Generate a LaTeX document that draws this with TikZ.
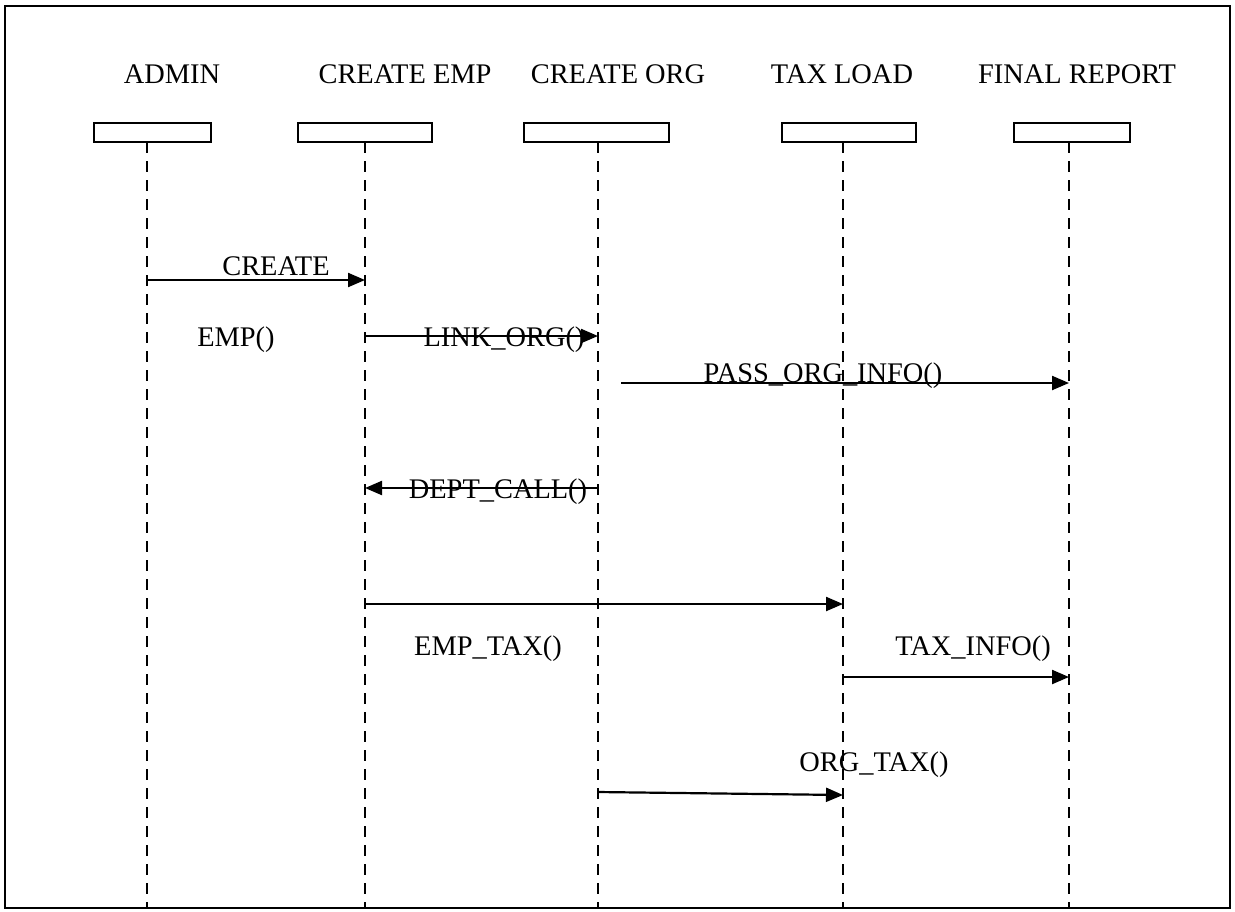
\documentclass[tikz,border=0pt]{standalone}
\usepackage{fontspec}
\setmainfont{Liberation Serif}
\usetikzlibrary{arrows.meta}
\begin{document}
\begin{tikzpicture}[x=0.5pt,y=-0.5pt,
  lbl/.style={font=\fontsize{14.2}{17}\selectfont, inner sep=0pt, anchor=base},
  headbox/.style={draw, line width=1pt, minimum height=9.5pt, inner sep=0pt},
  lifeline/.style={line width=1.2pt, dash pattern=on 5.5pt off 4pt},
  msg/.style={line width=1.1pt, -{Triangle[length=8.5pt,width=7pt]}}]

\useasboundingbox (0,0) rectangle (1235,911);

% outer frame
\draw[line width=1.1pt] (5,6) rectangle (1230,908);

% participant names
\node[lbl] (tAdmin) at (172,83) {ADMIN};
\node[lbl] (tEmp)   at (405,83) {CREATE EMP};
\node[lbl] (tOrg)   at (618,83) {CREATE ORG};
\node[lbl] (tTax)   at (842,83) {TAX LOAD};
\node[lbl] (tRep)   at (1077,83) {FINAL REPORT};

% participant boxes
\node[headbox, minimum width=58.5pt] (bAdmin) at (152,132) {};
\node[headbox, minimum width=67pt]   (bEmp)   at (364.5,132) {};
\node[headbox, minimum width=72.5pt] (bOrg)   at (596,132) {};
\node[headbox, minimum width=67pt]   (bTax)   at (848.5,132) {};
\node[headbox, minimum width=58pt]   (bRep)   at (1071.5,132) {};

% lifeline ends
\coordinate (aTop) at (147,142);  \coordinate (aBot) at (147,908);
\coordinate (eTop) at (365,142);  \coordinate (eBot) at (365,908);
\coordinate (oTop) at (598,142);  \coordinate (oBot) at (598,908);
\coordinate (xTop) at (843,142);  \coordinate (xBot) at (843,908);
\coordinate (rTop) at (1069,142); \coordinate (rBot) at (1069,908);

\draw[lifeline] (aTop) -- (aBot);
\draw[lifeline] (eTop) -- (eBot);
\draw[lifeline] (oTop) -- (oBot);
\draw[lifeline] (xTop) -- (xBot);
\draw[lifeline] (rTop) -- (rBot);

% message end points
\coordinate (m1s) at (147,280);  \coordinate (m1e) at (365,280);
\coordinate (m2s) at (365,336);  \coordinate (m2e) at (598,336);
\coordinate (m3s) at (621,383);  \coordinate (m3e) at (1069,383);
\coordinate (m4s) at (598,488);  \coordinate (m4e) at (365,488);
\coordinate (m5s) at (365,604);  \coordinate (m5e) at (843,604);
\coordinate (m6s) at (843,677);  \coordinate (m6e) at (1069,677);
\coordinate (m7s) at (598,792);  \coordinate (m7e) at (843,795);

% messages
\draw[msg] (m1s) -- (m1e);
\draw[msg] (m2s) -- (m2e);
\draw[msg] (m3s) -- (m3e);
\draw[msg] (m4s) -- (m4e);
\draw[msg] (m5s) -- (m5e);
\draw[msg] (m6s) -- (m6e);
\draw[msg] (m7s) -- (m7e);

% message labels
\node[lbl] (l1a) at (276,275) {CREATE};
\node[lbl] (l1b) at (236,346) {EMP()};
\node[lbl] (l2)  at (504,346) {LINK\_ORG()};
\node[lbl] (l3)  at (823,382) {PASS\_ORG\_INFO()};
\node[lbl] (l4)  at (498,498) {DEPT\_CALL()};
\node[lbl] (l5)  at (488,655) {EMP\_TAX()};
\node[lbl] (l6)  at (973,655) {TAX\_INFO()};
\node[lbl] (l7)  at (874,771) {ORG\_TAX()};
\end{tikzpicture}
\end{document}
